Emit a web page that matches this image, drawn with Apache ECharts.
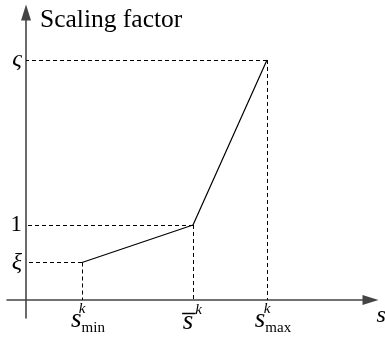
<!DOCTYPE html>
<html>
<head>
<meta charset="utf-8">
<script src="https://cdn.jsdelivr.net/npm/echarts@6/dist/echarts.min.js"></script>
<style>
  html, body { margin: 0; padding: 0; background: #fff; }
  #chart { width: 385px; height: 341px; }
</style>
</head>
<body>
<div id="chart"></div>
<script>
  // break points of the scaling curve (schematic units)
  const categories = ['s_min', 's_bar', 's_max']
  const xValues = [0.56, 1.67, 2.41]
  const yValues = [0.5, 1, 3.2]
  // tick labels
  const xTickSubs = ['min', '', 'max']
  const yTickValues = [0.5, 1, 3.2]
  const yTickLabels = ['ξ', '1', 'ς']

  const serif = '"Liberation Serif", "DejaVu Serif", serif'
  const axisColor = '#444'

  let myChart = echarts.init(document.getElementById('chart'))

  let points = xValues.map((x, i) => [x, yValues[i]])

  // dashed guides from every break point down to the x axis and left to the y axis
  let guides = []
  points.forEach((p) => {
    guides.push([{ coord: [p[0], p[1]] }, { coord: [p[0], 0] }])
    guides.push([{ coord: [p[0], p[1]] }, { coord: [0, p[1]] }])
  })

  let option = {
    animation: false,
    grid: {
      left: 7,
      right: 14.5,
      top: 12.5,
      bottom: 23,
      containLabel: false,
      outerBoundsMode: 'none'
    },
    xAxis: {
      type: 'value',
      min: -0.19,
      max: 3.445,
      name: 's',
      nameLocation: 'end',
      nameGap: 6,
      nameTextStyle: {
        fontFamily: serif,
        fontStyle: 'italic',
        fontSize: 24,
        color: '#000',
        align: 'left',
        verticalAlign: 'top',
        padding: [4, 0, 0, 0]
      },
      axisLine: {
        onZero: true,
        symbol: ['none', 'triangle'],
        symbolSize: [10, 16],
        lineStyle: { color: axisColor, width: 1.6 }
      },
      axisTick: { show: false },
      splitLine: { show: false },
      axisLabel: {
        customValues: xValues,
        // labels are laid out from the grid edge, pull them up to the zero line
        margin: -14,
        formatter: (value) => {
          let i = xValues.indexOf(value)
          // each line is centred on the tick on its own, spacers shift s / k into place
          if (!xTickSubs[i]) {
            return '{sp| }{k|k}\n{s|s\u0305}{sp2| }'
          }
          return '{k|k}\n{pad| }{s|s}{sub|' + xTickSubs[i] + '}'
        },
        rich: {
          sp: { width: 11 },
          sp2: { width: 10 },
          pad: { width: 12 },
          k: { fontFamily: serif, fontStyle: 'italic', fontSize: 15, color: '#000', lineHeight: 10 },
          s: { fontFamily: serif, fontStyle: 'italic', fontSize: 27, color: '#000', lineHeight: 20, padding: [0, 0, 8, 0] },
          sub: { fontFamily: serif, fontSize: 15, color: '#000', lineHeight: 20, padding: [8, 0, 0, 0] }
        }
      }
    },
    yAxis: {
      type: 'value',
      min: -0.24,
      max: 3.833,
      name: 'Scaling factor',
      nameLocation: 'end',
      nameGap: -8,
      nameTextStyle: {
        fontFamily: serif,
        fontSize: 25.5,
        color: '#000',
        align: 'left',
        verticalAlign: 'middle',
        padding: [0, 0, 0, 14]
      },
      axisLine: {
        onZero: true,
        symbol: ['none', 'triangle'],
        symbolSize: [10, 16],
        lineStyle: { color: axisColor, width: 1.6 }
      },
      axisTick: { show: false },
      splitLine: { show: false },
      axisLabel: {
        customValues: yTickValues,
        margin: -15,
        formatter: (value) => {
          let i = yTickValues.indexOf(value)
          return i === 1 ? '{n|' + yTickLabels[i] + '}' : '{g|' + yTickLabels[i] + '}'
        },
        rich: {
          n: { fontFamily: serif, fontSize: 23, color: '#000' },
          g: { fontFamily: serif, fontStyle: 'italic', fontSize: 24, color: '#000' }
        }
      }
    },
    series: [{
      type: 'line',
      data: points,
      showSymbol: false,
      symbol: 'none',
      lineStyle: { color: '#000', width: 1.2 },
      markLine: {
        silent: true,
        symbol: ['none', 'none'],
        label: { show: false },
        lineStyle: { color: '#000', width: 1, type: [4, 3] },
        emphasis: { disabled: true },
        data: guides
      }
    }]
  }

  myChart.setOption(option)
</script>
</body>
</html>
